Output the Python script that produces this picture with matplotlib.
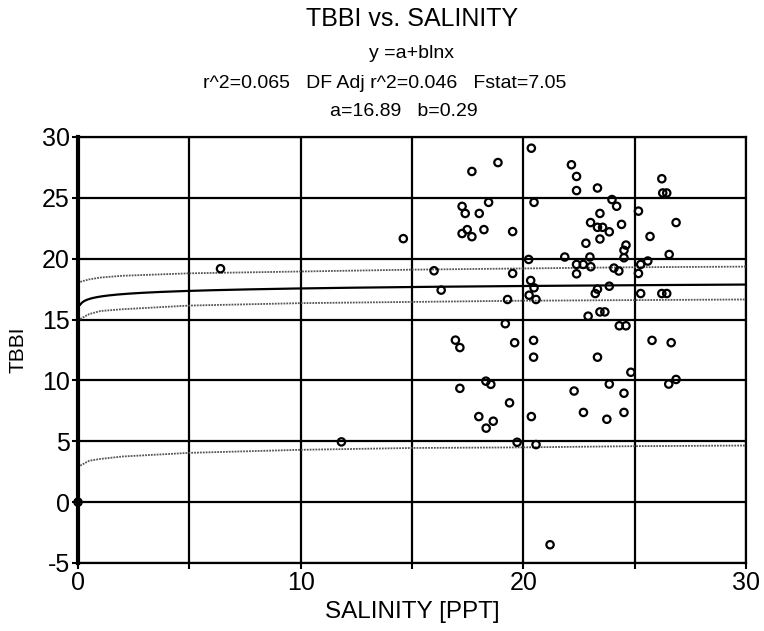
import numpy as np
import matplotlib
matplotlib.use("Agg")
import matplotlib.pyplot as plt

plt.rcParams['font.family'] = ['Liberation Sans', 'DejaVu Sans']
plt.rcParams['axes.unicode_minus'] = False

# fitted coefficients, y = a + b ln x
a = 16.89
b = 0.29

salinity = [20.36, 18.86, 17.69, 18.44, 20.48, 17.25, 17.39, 18.02, 17.48, 17.25,
            17.69, 18.23, 19.52, 14.61, 20.24, 15.99, 19.52, 20.33, 20.48, 20.26,
            20.57, 16.31, 19.29, 19.19, 16.95, 17.15, 19.61, 20.46,
            20.46, 18.32, 18.54, 17.15, 19.38, 18.00, 18.65, 18.33, 20.36, 19.72, 20.57,
            22.16, 22.39, 22.39, 23.33, 26.22, 26.26, 26.44, 23.98, 24.19, 25.17,
            23.44, 23.02, 23.33, 23.56, 23.86, 24.41, 26.86, 23.44, 22.81, 25.69,
            24.61, 24.52, 24.52, 21.86, 22.99, 22.39, 22.69, 23.03, 22.39, 24.07,
            24.29, 25.27, 25.59, 25.17, 26.55, 23.86, 23.33, 23.23, 25.27, 26.22,
            26.44, 23.44, 23.66, 22.91, 24.31, 24.61, 25.78, 26.64,
            23.33, 24.83, 23.86, 22.28, 24.52, 26.53, 26.86, 22.70, 23.75, 24.52, 21.20,
            6.40, 11.83, 0.0]
tbbi = [29.08, 27.90, 27.17, 24.63, 24.63, 24.30, 23.72, 23.72, 22.39, 22.07,
        21.81, 22.39, 22.23, 21.65, 19.94, 19.01, 18.79, 18.21, 17.61, 17.00,
        16.65, 17.42, 16.65, 14.66, 13.31, 12.70, 13.10, 13.29,
        11.91, 9.94, 9.68, 9.35, 8.16, 7.03, 6.65, 6.08, 7.03, 4.92, 4.73,
        27.72, 26.76, 25.60, 25.81, 26.57, 25.40, 25.40, 24.86, 24.31, 23.91,
        23.72, 22.97, 22.58, 22.58, 22.21, 22.82, 22.97, 21.62, 21.27, 21.83,
        21.12, 20.69, 20.08, 20.14, 20.14, 19.53, 19.53, 19.34, 18.76, 19.23,
        18.99, 19.53, 19.81, 18.79, 20.35, 17.74, 17.50, 17.14, 17.14, 17.14,
        17.14, 15.63, 15.63, 15.28, 14.49, 14.49, 13.29, 13.10,
        11.91, 10.67, 9.70, 9.13, 8.95, 9.70, 10.08, 7.37, 6.81, 7.37, -3.50,
        19.18, 4.95, 0.0]

# confidence and prediction limits
band_x = [0.1, 0.5, 1, 2, 5, 10, 15, 20, 25, 30]
conf_upper = [18.1, 18.3, 18.45, 18.6, 18.8, 18.95, 19.1, 19.2, 19.3, 19.35]
conf_lower = [15.05, 15.45, 15.7, 15.85, 16.15, 16.35, 16.45, 16.55, 16.6, 16.65]
pred_lower = [3.0, 3.4, 3.55, 3.75, 4.05, 4.3, 4.45, 4.5, 4.6, 4.65]

W, H = 764, 631
fig = plt.figure(figsize=(W/100, H/100), dpi=100)
ax = fig.add_axes([78/W, 1 - 563/H, 668/W, 426/H])

xf = np.geomspace(0.1, 30, 400)
ax.plot(xf, a + b*np.log(xf), color='black', lw=1.6, zorder=3)
for band in (conf_upper, conf_lower, pred_lower):
    ax.plot(band_x, band, color='#555555', lw=1.3, linestyle=(0, (1, 0.6)), zorder=3)

ax.scatter(salinity, tbbi, s=28, facecolors='none', edgecolors='black',
           linewidths=1.6, zorder=4, clip_on=False)

ax.set_xlim(0, 30)
ax.set_ylim(-5, 30)
ax.set_xticks(np.arange(0, 31, 5))
ax.set_xticklabels(['0', '', '10', '', '20', '', '30'])
ax.set_yticks(np.arange(-5, 31, 5))
ax.grid(True, color='black', lw=1.6)
ax.tick_params(direction='out', length=4, width=1.5, labelsize=18, pad=2)
for side in ax.spines:
    ax.spines[side].set_linewidth(1.6)
ax.spines['left'].set_linewidth(3)

cx = (78 + 746) / 2 / W
fig.text(cx, 1 - 612/H, 'SALINITY [PPT]', fontsize=17.5, ha='center', va='center')
fig.text(18/W, 1 - 350/H, 'TBBI', fontsize=15, rotation=90, ha='center', va='center')

fig.text(cx, 1 - 19/H, 'TBBI vs. SALINITY', fontsize=18, ha='center', va='center')
fig.text(cx, 1 - 53/H, 'y =a+blnx', fontsize=14, ha='center', va='center')
fig.text(203/W, 1 - 84/H, 'r^2=0.065   DF Adj r^2=0.046   Fstat=7.05', fontsize=14,
         ha='left', va='center')
fig.text(cx - 8/W, 1 - 112/H, 'a=16.89   b=0.29', fontsize=14, ha='center', va='center')

fig.savefig('out.png', dpi=100)
